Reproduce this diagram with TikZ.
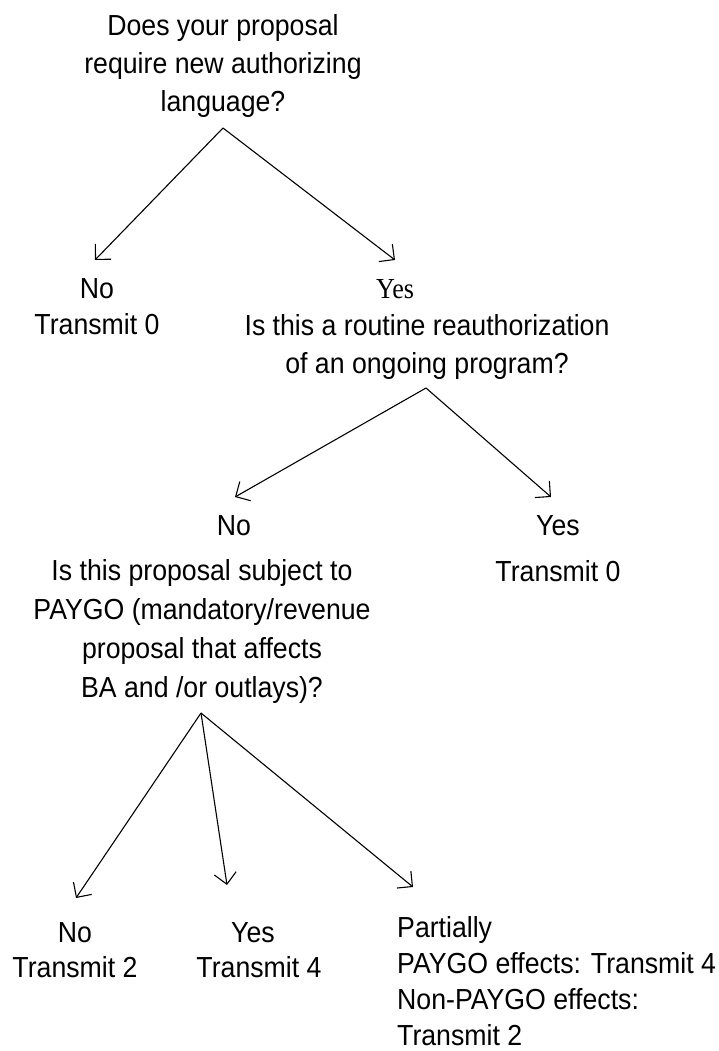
\documentclass[tikz,border=0pt]{standalone}
\usepackage{fontspec}
\setmainfont{Liberation Sans}[FakeStretch=0.92]
\newfontfamily\yesserif{Liberation Serif}[FakeStretch=0.9]
\usetikzlibrary{arrows.meta}
\begin{document}
\begin{tikzpicture}[x=1pt,y=-1pt,
  txt/.style={inner sep=0pt, anchor=base, align=center, font=\fontsize{29}{38}\selectfont},
  ltxt/.style={inner sep=0pt, anchor=base west, align=left, font=\fontsize{29}{36}\selectfont},
  arr/.style={line width=1.1pt, -{Straight Barb[length=11pt,width=22pt,line width=1.1pt]}}]
\useasboundingbox (0,0) rectangle (718,1051);
% nodes (anchor base = baseline of the last line)
\node[txt] (q1) at (223,112) {Does your proposal\\require new authorizing\\language?};
\node[txt, font=\fontsize{29}{36}\selectfont] (n1) at (97,334) {No\\Transmit 0};
\node[txt, font=\fontsize{29}{38}\yesserif] (y1) at (395,298) {Yes};
\node[txt] (q2) at (427,373) {Is this a routine reauthorization\\of an ongoing program?};
\node[txt] (n2) at (234,535) {No};
\node[txt, font=\fontsize{29}{38.7}\selectfont] (q3) at (202,697) {Is this proposal subject to\\PAYGO (mandatory/revenue\\proposal that affects\\BA and /or outlays)?};
\node[txt] (y2) at (558,581) {Yes\\[8pt]Transmit 0};
\node[txt, font=\fontsize{29}{35}\selectfont] (n3) at (75,977) {No\\Transmit 2};
\node[txt, font=\fontsize{29}{35}\selectfont] (y3) at (259,977) {Yes\hspace*{12pt}\\Transmit 4};
\node[ltxt] (p3) at (397,1045) {Partially\\PAYGO effects: Transmit 4\\Non-PAYGO effects:\\Transmit 2};
% connector ends
\coordinate (a1) at (223,128);
\coordinate (a2) at (426,388);
\coordinate (a3) at (201,713);
\coordinate (t1n) at (95,260);
\coordinate (t1y) at (395,260);
\coordinate (t2n) at (235,497);
\coordinate (t2y) at (551,497);
\coordinate (t3n) at (76,898);
\coordinate (t3y) at (227,885);
\coordinate (t3p) at (413,887);
% connectors
\draw[arr] (a1) -- (t1n);
\draw[arr] (a1) -- (t1y);
\draw[arr] (a2) -- (t2n);
\draw[arr] (a2) -- (t2y);
\draw[arr] (a3) -- (t3n);
\draw[arr] (a3) -- (t3y);
\draw[arr] (a3) -- (t3p);
\end{tikzpicture}
\end{document}
